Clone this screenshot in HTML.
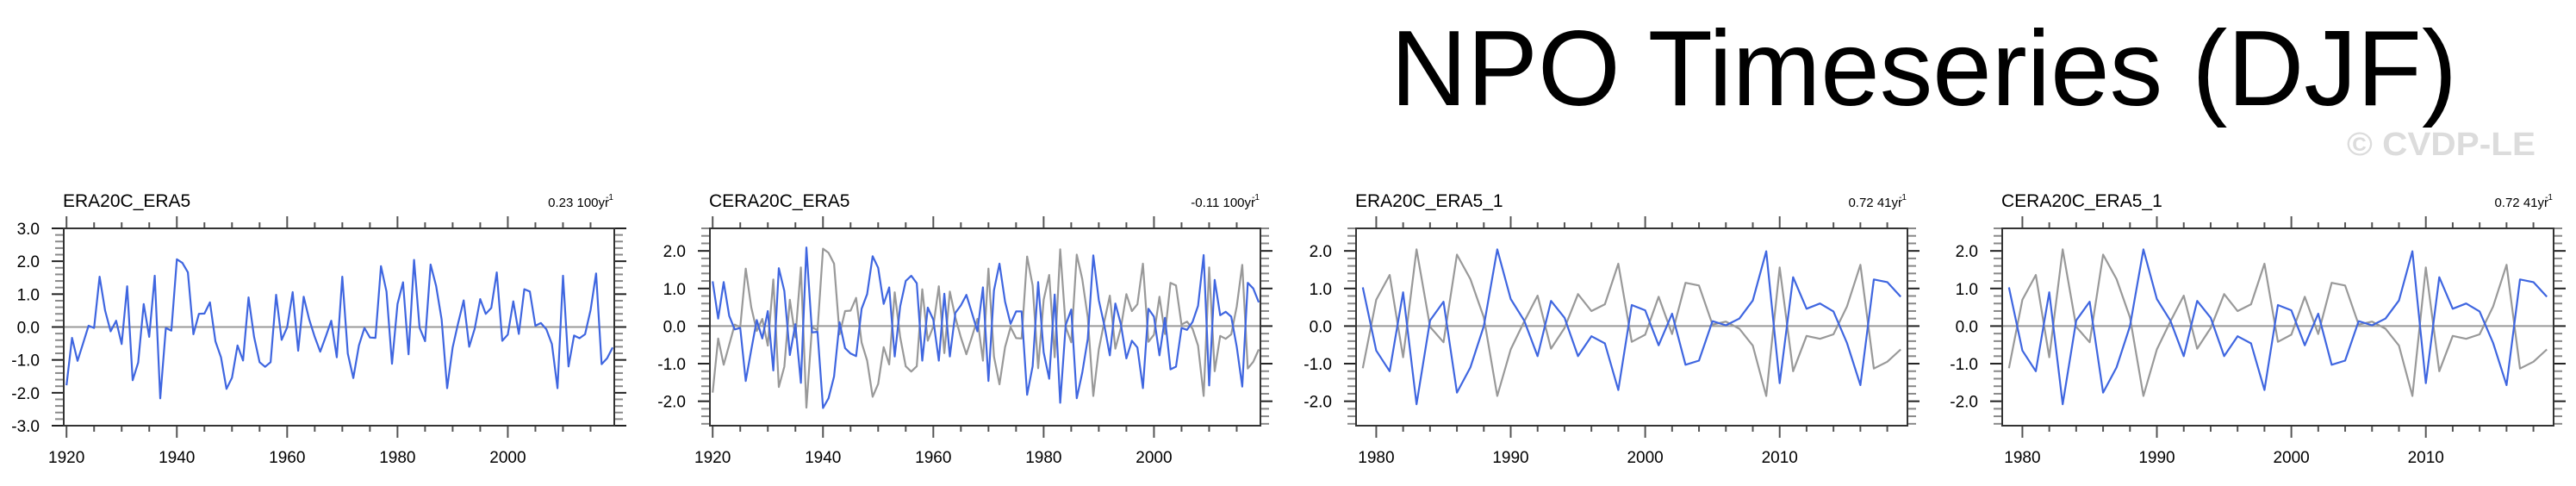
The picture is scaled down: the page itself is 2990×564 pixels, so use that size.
<!DOCTYPE html>
<html><head><meta charset="utf-8"><style>
html,body{margin:0;padding:0;background:#fff;}
svg{display:block;font-family:"Liberation Sans",Arial,sans-serif;}
</style></head><body>
<svg id="chart" width="2990" height="564" viewBox="0 0 2990 564" xmlns="http://www.w3.org/2000/svg">
<text x="1614" y="122" font-size="124" textLength="1238" lengthAdjust="spacingAndGlyphs" fill="#000">NPO Timeseries (DJF)</text>
<text x="2724" y="180" font-size="38" font-weight="bold" textLength="219" lengthAdjust="spacingAndGlyphs" fill="#dcdcdc">© CVDP-LE</text>
</svg>
<script>
const era20c = [-1.77,-0.33,-1.03,-0.5,0.04,-0.03,1.53,0.5,-0.13,0.19,-0.52,1.24,-1.62,-1.08,0.7,-0.3,1.56,-2.17,-0.03,-0.11,2.06,1.95,1.66,-0.22,0.4,0.41,0.75,-0.44,-0.92,-1.88,-1.54,-0.56,-1.02,0.9,-0.3,-1.07,-1.21,-1.07,0.98,-0.39,-0.01,1.06,-0.72,0.92,0.23,-0.3,-0.75,-0.29,0.19,-0.92,1.53,-0.81,-1.55,-0.56,-0.03,-0.32,-0.33,1.85,1.08,-1.12,0.7,1.36,-0.83,2.04,-0.02,-0.43,1.9,1.25,0.23,-1.86,-0.62,0.12,0.81,-0.6,-0.05,0.85,0.4,0.58,1.66,-0.42,-0.23,0.78,-0.21,1.15,1.08,0.04,0.12,-0.07,-0.52,-1.86,1.56,-1.2,-0.26,-0.34,-0.22,0.52,1.63,-1.13,-0.95,-0.62];
const cera20c = [1.19,0.2,1.17,0.27,-0.09,-0.05,-1.46,-0.63,0.16,-0.33,0.4,-1.18,1.54,0.93,-0.77,0.05,-1.51,2.09,-0.17,-0.15,-2.18,-1.92,-1.34,0.1,-0.59,-0.73,-0.8,0.46,0.85,1.86,1.55,0.59,1.03,-0.81,0.53,1.2,1.34,1.14,-0.92,0.49,0.17,-0.92,0.86,-0.81,0.35,0.55,0.83,0.35,-0.14,1.03,-1.46,0.95,1.66,0.65,0.06,0.39,0.39,-1.83,-1.07,1.17,-0.7,-1.4,0.84,-2.04,0.03,0.44,-1.92,-1.24,-0.34,1.88,0.69,0.02,-0.78,0.6,0.05,-0.86,-0.39,-0.57,-1.65,0.46,0.25,-0.78,0.22,-1.15,-1.08,-0.05,-0.1,0.11,0.54,1.89,-1.58,1.23,0.29,0.38,0.25,-0.55,-1.61,1.15,1.0,0.63];
const era20c1 = [1.03,-0.65,-1.2,0.9,-2.08,0.15,0.65,-1.77,-1.1,0.0,2.04,0.72,0.15,-0.8,0.67,0.22,-0.8,-0.27,-0.46,-1.7,0.56,0.42,-0.51,0.33,-1.03,-0.92,0.13,0.02,0.2,0.68,1.99,-1.52,1.3,0.46,0.6,0.39,-0.45,-1.57,1.24,1.17,0.78];
const cera20c1 = [1.03,-0.65,-1.2,0.9,-2.08,0.15,0.65,-1.77,-1.1,0.0,2.04,0.72,0.15,-0.8,0.67,0.22,-0.8,-0.27,-0.46,-1.7,0.56,0.42,-0.51,0.33,-1.03,-0.92,0.13,0.02,0.2,0.68,1.99,-1.52,1.3,0.46,0.6,0.39,-0.45,-1.57,1.24,1.17,0.78];
const panelTitles = ["ERA20C_ERA5","CERA20C_ERA5","ERA20C_ERA5_1","CERA20C_ERA5_1"];
const trendLabels = ["0.23 100yr","-0.11 100yr","0.72 41yr","0.72 41yr"];
const startYears = [1920,1920,1979,1979];
const xTicksLong = [1920,1940,1960,1980,2000];
const xTicksShort = [1980,1990,2000,2010];
const yTicks1 = [-3,-2,-1,0,1,2,3];
const yTicks2 = [-2,-1,0,1,2];

const NS = "http://www.w3.org/2000/svg";
const svg = document.getElementById('chart');
function mk(tag, attrs, parent){ const e=document.createElementNS(NS,tag); for(const k in attrs) e.setAttribute(k,attrs[k]); (parent||svg).appendChild(e); return e; }

function panel(i, left, right, xmin, xmax, ymin, ymax, series, ref, xt, yt, top, bottom){
  const g = mk('g',{});
  
  
  const sx = v => left + (v - xmin)/(xmax - xmin)*(right-left);
  const sy = v => bottom - (v - ymin)/(ymax - ymin)*(bottom-top);
  // title
  const t = mk('text',{x:left-1,y:240,'font-size':21,fill:'#000'},g); t.textContent=panelTitles[i];
   
  const tr = mk('text',{x:right-6,y:240,'font-size':15,'text-anchor':'end',fill:'#000'},g); tr.textContent=trendLabels[i];
   
  const sup = mk('text',{x:right-1,y:232,'font-size':10,'text-anchor':'end',fill:'#000'},g); sup.textContent='-1';
   
  // zero line
  const z = mk('line',{x1:left,x2:right,y1:sy(0),y2:sy(0),stroke:'#999','stroke-width':2},g);
   
  // x ticks
  const first = Math.ceil(xmin/5)*5;
  for(let yv=first; yv<=xmax; yv+=(xmax-xmin>60?5:2)){
    const major = xt.indexOf(yv)>=0 || (xmax-xmin<60 && yv%10===0);
    const len = major?14:7, x=sx(yv);
    const a=mk('line',{x1:x,x2:x,y1:top,y2:top-len,stroke:'#555','stroke-width':2},g);
     
    const b=mk('line',{x1:x,x2:x,y1:bottom,y2:bottom+len,stroke:'#555','stroke-width':2},g);
     
  }
  xt.forEach(v=>{
    const l=mk('text',{x:sx(v),y:537,'font-size':19,'text-anchor':'middle',fill:'#000'},g); l.textContent=String(v);
     
  });
  // y ticks
  for(let k=Math.ceil(ymin*5); k<=Math.floor(ymax*5); k++){
    const v=k/5, y=sy(v), major = (k%5===0);
    const len = major?14:10;
    const a=mk('line',{x1:left,x2:left-len,y1:y,y2:y,stroke:major?'#222':'#888','stroke-width':2},g);
     
    const b=mk('line',{x1:right,x2:right+len,y1:y,y2:y,stroke:major?'#222':'#888','stroke-width':2},g);
     
  }
  yt.forEach(v=>{
    const l=mk('text',{x:left-28,y:sy(v)+7,'font-size':19,'text-anchor':'end',fill:'#000'},g); l.textContent=v.toFixed(1);
     
  });
  const line=(vals,color,name)=>{
    const d = vals.map((v,j)=>(j?'L':'M')+sx(startYears[i]+j).toFixed(1)+','+sy(v).toFixed(1)).join(' ');
    const p=mk('path',{d:d,fill:'none',stroke:color,'stroke-width':2.2,'stroke-linejoin':'round'},g);
     
  };
  if(ref) line(ref,'#999','reference-series-line');
  line(series,'#3f66e0','series-line');
  const f=mk('rect',{x:left,y:top,width:right-left,height:bottom-top,fill:'none',stroke:'#333','stroke-width':2},g);
   
}
panel(0, 74, 713, 1919.5, 2019.3, -3, 3, era20c, null, xTicksLong, yTicks1, 265, 494);
panel(1, 824, 1463, 1919.5, 2019.3, -2.65, 2.6, cera20c, era20c, xTicksLong, yTicks2, 265, 494);
panel(2, 1574, 2214, 1978.5, 2019.5, -2.65, 2.6, era20c1, era20c.slice(59), xTicksShort, yTicks2, 265, 494);
panel(3, 2324, 2964, 1978.5, 2019.5, -2.65, 2.6, cera20c1, era20c.slice(59), xTicksShort, yTicks2, 265, 494);
</script>
</body></html>
